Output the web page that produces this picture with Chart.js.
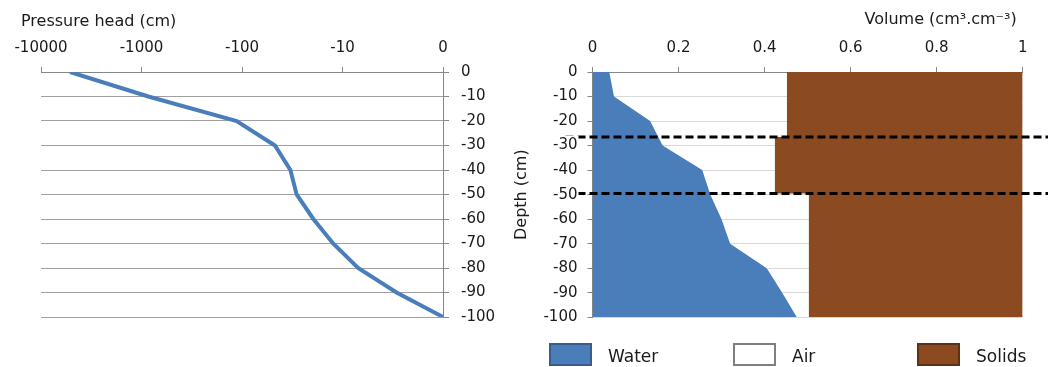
<!DOCTYPE html>
<html>
<head>
<meta charset="utf-8">
<title>Pressure head and soil volume profiles</title>
<script src="https://cdn.jsdelivr.net/npm/chart.js@4.4.0/dist/chart.umd.min.js"></script>
<style>
  body { margin: 0; background: #fff; overflow: hidden; }
  #wrap { position: relative; width: 1048px; height: 367px; }
  .panel { position: absolute; top: 0; }
  #legend { position: absolute; left: 549px; top: 343px; display: flex; font: 17px "DejaVu Sans", sans-serif; color: #1a1a1a; }
  .item { width: 184px; display: flex; align-items: center; }
  .swatch { width: 43px; height: 23px; box-sizing: border-box; border: 2px solid; }
  .item .label { margin-left: 16px; position: relative; top: 1px; }
</style>
</head>
<body>
<div id="wrap">
  <canvas id="pressureChart" class="panel" width="500" height="367" style="left:0"></canvas>
  <canvas id="volumeChart" class="panel" width="548" height="367" style="left:500px"></canvas>
  <div id="legend"></div>
</div>
<script>
// sample depths (cm), shared by both profiles
const depths = [0, -10, -20, -30, -40, -50, -60, -70, -80, -90, -100];

// left panel: pressure head (cm) at each depth
const pressureHead = [-5140, -854, -112, -46, -32, -27.6, -18.5, -11.4, -6, -1.9, 0];
const pressureTicks = [-10000, -1000, -100, -10, 0];

// right panel: volumetric fractions (cm3.cm-3)
const waterContent = [0.039, 0.050, 0.134, 0.163, 0.255, 0.274, 0.300, 0.320, 0.405, 0.441, 0.475];
const layerBounds = [-26.5, -49.5];
const layerTop = [0, -26.5, -49.5];
const layerBottom = [-26.5, -49.5, -100];
const solidsFraction = [0.548, 0.576, 0.497];

// legend swatch edges
const legendEdge = ['#385D8A', '#7F7F7F', '#5C3115'];

Chart.defaults.font.family = '"DejaVu Sans", sans-serif';
Chart.defaults.font.size = 15;
Chart.defaults.color = '#1a1a1a';

// log-like position used for the pressure axis (0 -> 0, -10 -> -1, ...)
const toLog = h => -Math.log10(1 - h);

// axis titles sitting above the plot, Excel style
const cornerTitle = {
  id: 'cornerTitle',
  afterDraw(chart, args, opts) {
    if (!opts.text) return;
    const { ctx, chartArea } = chart;
    ctx.save();
    ctx.font = '16px "DejaVu Sans", sans-serif';
    ctx.fillStyle = '#1a1a1a';
    ctx.textAlign = opts.align;
    ctx.textBaseline = 'alphabetic';
    const x = (opts.align === 'left' ? chartArea.left : chartArea.right) + opts.dx;
    ctx.fillText(opts.text, x, opts.y);
    ctx.restore();
  }
};

// dashed horizon boundaries
const layerLines = {
  id: 'layerLines',
  afterDatasetsDraw(chart, args, opts) {
    if (!opts.depths) return;
    const { ctx, chartArea, scales } = chart;
    ctx.save();
    ctx.strokeStyle = '#000';
    ctx.lineWidth = 3;
    ctx.setLineDash([8, 4]);
    opts.depths.forEach(d => {
      const py = scales.y.getPixelForValue(d);
      ctx.beginPath();
      ctx.moveTo(chartArea.left - 27, py);
      ctx.lineTo(chart.width, py);
      ctx.stroke();
    });
    ctx.restore();
  }
};

// 1. Pressure head profile
new Chart(document.getElementById('pressureChart'), {
  type: 'line',
  data: {
    datasets: [{
      label: 'Pressure head',
      data: pressureHead.map((h, i) => ({ x: toLog(h), y: depths[i] })),
      borderColor: '#4A7EBB',
      borderWidth: 4,
      pointRadius: 0,
      tension: 0,
      fill: false
    }]
  },
  options: {
    responsive: false,
    animation: false,
    layout: { padding: { left: 41, right: 0, top: 0, bottom: 50 } },
    plugins: {
      legend: { display: false },
      tooltip: { enabled: false },
      cornerTitle: { text: 'Pressure head (cm)', align: 'left', dx: -20, y: 26 }
    },
    scales: {
      x: {
        type: 'linear', position: 'top', min: -4, max: 0,
        ticks: { stepSize: 1, padding: 10, maxRotation: 0, callback: v => pressureTicks[v + 4] },
        grid: { drawOnChartArea: false, tickLength: 5, color: '#868686' },
        border: { color: '#868686' },
        afterFit: s => { s.height = 72; }
      },
      y: {
        type: 'linear', position: 'right', min: -100, max: 0,
        ticks: { stepSize: 10, padding: 12 },
        grid: { color: '#a0a0a0', tickLength: 6, tickColor: '#868686' },
        border: { color: '#868686' },
        afterFit: s => { s.width = 57; }
      }
    }
  },
  plugins: [cornerTitle]
});

// 2. Volume fractions profile
const solidsEdge = [];
solidsFraction.forEach((s, i) => {
  solidsEdge.push({ x: 1 - s, y: layerTop[i] });
  solidsEdge.push({ x: 1 - s, y: layerBottom[i] });
});

const volumeChart = new Chart(document.getElementById('volumeChart'), {
  type: 'line',
  data: {
    datasets: [
      { label: 'Water', data: waterContent.map((w, i) => ({ x: w, y: depths[i] })),
        backgroundColor: '#4A7EBB', fill: 'origin' },
      { label: 'Air', data: solidsEdge, backgroundColor: '#FFFFFF', fill: false },
      { label: 'Solids', data: solidsEdge, backgroundColor: '#8B4A20', fill: { value: 1 } }
    ]
  },
  options: {
    indexAxis: 'y',
    responsive: false,
    animation: false,
    layout: { padding: { left: 0, right: 25.3, top: 0, bottom: 49.7 } },
    elements: {
      point: { radius: 0 },
      line: { tension: 0, borderWidth: 0, borderColor: 'rgba(0,0,0,0)' }
    },
    plugins: {
      legend: { display: false },
      tooltip: { enabled: false },
      cornerTitle: { text: 'Volume (cm³.cm⁻³)', align: 'right', dx: -6, y: 24 },
      layerLines: { depths: layerBounds }
    },
    scales: {
      x: {
        type: 'linear', position: 'top', min: 0, max: 1,
        ticks: { stepSize: 0.2, padding: 10, maxRotation: 0, callback: v => String(Number(v.toFixed(2))) },
        grid: { drawOnChartArea: false, tickLength: 5, color: '#868686' },
        border: { color: '#868686' },
        afterFit: s => { s.height = 72; }
      },
      y: {
        type: 'linear', position: 'left', min: -100, max: 0,
        ticks: { stepSize: 10, padding: 10, z: 1, showLabelBackdrop: true, backdropColor: '#fff', backdropPadding: 1 },
        grid: { color: '#d9d9d9', tickLength: 5, tickColor: '#868686' },
        border: { color: '#868686' },
        title: { display: true, text: 'Depth (cm)', font: { size: 16 }, padding: { top: 12, bottom: 0 } },
        afterFit: s => { s.width = 92.5; }
      }
    }
  },
  plugins: [cornerTitle, layerLines]
});

// HTML legend built from the datasets
const legendEl = document.getElementById('legend');
volumeChart.data.datasets.forEach((ds, i) => {
  const item = document.createElement('div');
  item.className = 'item';
  const sw = document.createElement('span');
  sw.className = 'swatch';
  sw.style.background = ds.backgroundColor;
  sw.style.borderColor = legendEdge[i];
  const lb = document.createElement('span');
  lb.className = 'label';
  lb.textContent = ds.label;
  item.append(sw, lb);
  legendEl.append(item);
});
</script>
</body>
</html>
